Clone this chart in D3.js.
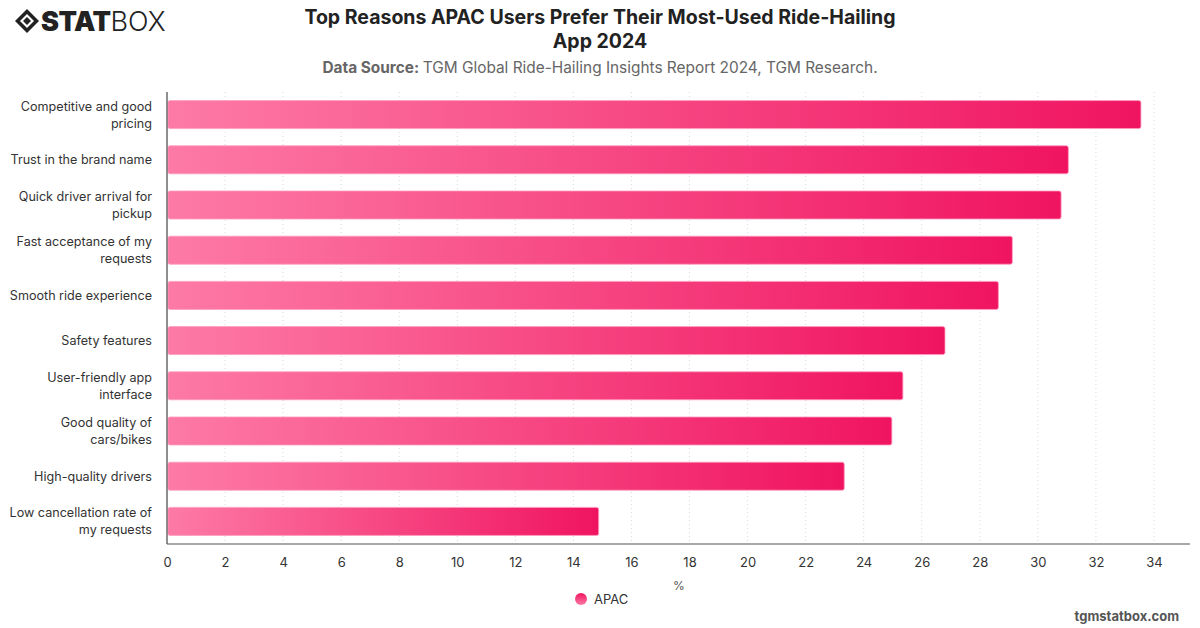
<!DOCTYPE html>
<html lang="en">
<head>
<meta charset="UTF-8">
<title>Top Reasons APAC Users Prefer Their Most-Used Ride-Hailing App 2024</title>
<script src="https://cdn.jsdelivr.net/npm/d3@7"></script>
<style>
  body { margin: 0; background: #fff; }
  svg text { font-family: Inter, "Noto Sans", sans-serif; }
</style>
</head>
<body>
<svg id="chart" width="1200" height="628"></svg>
<script>
// data
var reasons = [
  ["Competitive and good", "pricing"],
  ["Trust in the brand name"],
  ["Quick driver arrival for", "pickup"],
  ["Fast acceptance of my", "requests"],
  ["Smooth ride experience"],
  ["Safety features"],
  ["User-friendly app", "interface"],
  ["Good quality of", "cars/bikes"],
  ["High-quality drivers"],
  ["Low cancellation rate of", "my requests"]
];
var apacValues = [33.55, 31.05, 30.8, 29.12, 28.64, 26.8, 25.35, 24.97, 23.33, 14.87];
var xTicks = d3.range(0, 35, 2);

var svg = d3.select("#chart");

var margin = { left: 167, top: 92, right: 1190, bottom: 544 };

var x = d3.scaleLinear().domain([0, 34]).range([margin.left, 1154]);
var y = d3.scaleBand().domain(d3.range(reasons.length))
    .range([margin.top, margin.bottom]).paddingInner(0.38).paddingOuter(0.19);

// gradient for bars
var defs = svg.append("defs");
var grad = defs.append("linearGradient").attr("id", "barGrad")
    .attr("x1", "0%").attr("x2", "100%").attr("y1", "0%").attr("y2", "0%");
grad.append("stop").attr("offset", "0%").attr("stop-color", "#fd7aa6");
grad.append("stop").attr("offset", "100%").attr("stop-color", "#f01460");

var lgrad = defs.append("linearGradient").attr("id", "legGrad")
    .attr("x1", "0%").attr("x2", "0%").attr("y1", "0%").attr("y2", "100%");
lgrad.append("stop").attr("offset", "0%").attr("stop-color", "#f01460");
lgrad.append("stop").attr("offset", "100%").attr("stop-color", "#fd7aa6");

// grid lines
svg.append("g").selectAll("line").data(xTicks.slice(1)).join("line")
    .attr("x1", d => x(d)).attr("x2", d => x(d))
    .attr("y1", margin.top).attr("y2", margin.bottom)
    .attr("stroke", "#d9d9d9").attr("stroke-width", 1)
    .attr("stroke-dasharray", "1,3");

// bars
svg.append("g").selectAll("rect").data(apacValues).join("rect")
    .attr("x", x(0) + 1)
    .attr("y", (d, i) => y(i))
    .attr("width", d => x(d) - x(0) - 1)
    .attr("height", y.bandwidth())
    .attr("rx", 2)
    .attr("fill", "url(#barGrad)")
    .attr("stroke", "#ff9cc0").attr("stroke-width", 0.8);

// axes lines
svg.append("line").attr("x1", margin.left).attr("x2", margin.left)
    .attr("y1", margin.top).attr("y2", margin.bottom)
    .attr("stroke", "#444").attr("stroke-width", 1.2);
svg.append("line").attr("x1", margin.left).attr("x2", margin.right)
    .attr("y1", margin.bottom).attr("y2", margin.bottom)
    .attr("stroke", "#555").attr("stroke-width", 1.2);

// x tick labels
var xAxis = d3.axisBottom(x).tickValues(xTicks).tickSize(0).tickPadding(14);
var gx = svg.append("g").attr("transform", "translate(0," + margin.bottom + ")").call(xAxis);
gx.select(".domain").remove();
gx.selectAll("text").attr("font-size", 13).attr("fill", "#333")
    .style("font-family", "Inter, sans-serif");

svg.append("text").attr("x", 679).attr("y", 590).attr("text-anchor", "middle")
    .attr("font-size", 12).attr("fill", "#555").text("%");

// y labels
var ylab = svg.append("g").selectAll("text").data(reasons).join("text")
    .attr("text-anchor", "end").attr("font-size", 12.6).attr("fill", "#333")
    .attr("x", 152)
    .attr("y", (d, i) => y(i) + y.bandwidth() / 2);
ylab.each(function (d) {
  var t = d3.select(this);
  var lh = 17;
  d.forEach(function (line, k) {
    t.append("tspan").attr("x", 152)
      .attr("dy", k === 0 ? (-(d.length - 1) * lh / 2 + 4.5) : lh)
      .text(line);
  });
});

// title
svg.append("text").attr("x", 600).attr("y", 24).attr("text-anchor", "middle")
    .attr("font-size", 19.5).attr("font-weight", 700).attr("fill", "#222")
    .text("Top Reasons APAC Users Prefer Their Most-Used Ride-Hailing");
svg.append("text").attr("x", 600).attr("y", 48).attr("text-anchor", "middle")
    .attr("font-size", 19.5).attr("font-weight", 700).attr("fill", "#222")
    .text("App 2024");
var sub = svg.append("text").attr("x", 600).attr("y", 73).attr("text-anchor", "middle")
    .attr("font-size", 15.4).attr("fill", "#666");
sub.append("tspan").attr("font-weight", 700).text("Data Source: ");
sub.append("tspan").text("TGM Global Ride-Hailing Insights Report 2024, TGM Research.");

// legend
svg.append("circle").attr("cx", 581).attr("cy", 599).attr("r", 6)
    .attr("fill", "url(#legGrad)");
svg.append("text").attr("x", 594).attr("y", 604).attr("font-size", 13)
    .attr("fill", "#333").text("APAC");

// footer
svg.append("text").attr("x", 1179).attr("y", 621).attr("text-anchor", "end")
    .attr("font-size", 13).attr("font-weight", 700).attr("fill", "#555")
    .text("tgmstatbox.com");

// logo
var logo = svg.append("g").attr("transform", "translate(27,21)");
logo.append("path").attr("d", "M0,-12 L12,0 L0,12 L-12,0 Z").attr("fill", "#222");
logo.append("path").attr("d", "M0,-7 L7,0 L0,7 L-7,0 Z").attr("fill", "#fff");
logo.append("path").attr("d", "M0,-4 L4,0 L0,4 L-4,0 Z").attr("fill", "#222");
var lt = svg.append("text").attr("x", 41).attr("y", 31).attr("font-size", 27).attr("fill", "#222");
lt.append("tspan").attr("font-weight", 900).attr("letter-spacing", -0.5).text("STAT");
lt.append("tspan").attr("font-weight", 300).text("BOX");
</script>
</body>
</html>
